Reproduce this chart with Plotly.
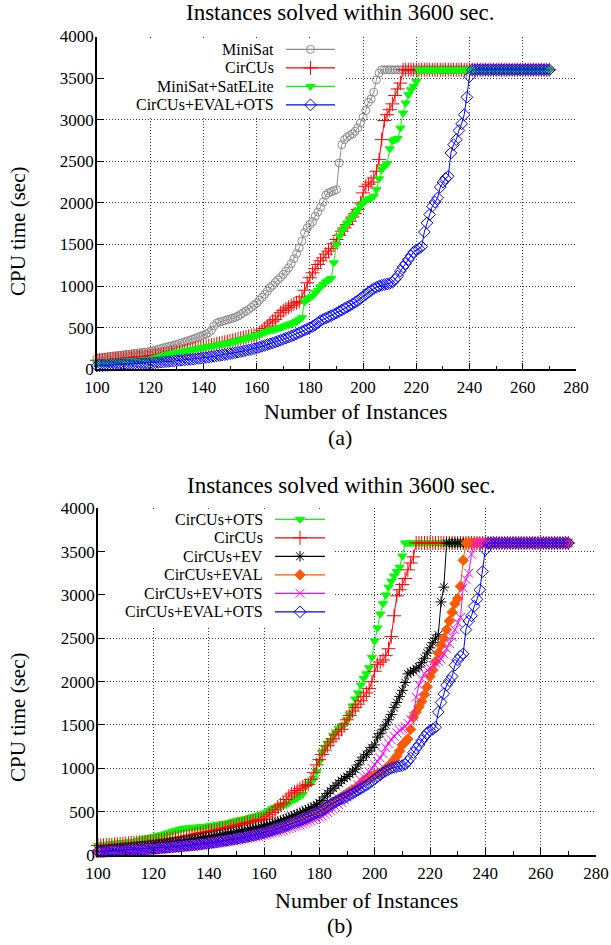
import plotly.graph_objects as go

W, H = 611, 945
FONT = "Liberation Serif, Times New Roman, serif"

TIMEOUT = 3600          # CPU limit (sec); unsolved instances are plotted at this value
FIRST_INSTANCE = 100
LAST_INSTANCE = 270

X_TICKS = list(range(100, 281, 20))
Y_TICKS = list(range(0, 4001, 500))

# Sorted CPU times (sec) of solved instances, from instance #100 onwards
minisat = [
    130, 135, 140, 145, 150, 155, 160, 163, 167, 170,
    174, 178, 182, 186, 190, 194, 198, 202, 206, 210,
    214, 222, 232, 240, 250, 258, 266, 274, 282, 292,
    300, 310, 320, 330, 340, 350, 362, 374, 386, 398,
    410, 425, 440, 470, 520, 555, 568, 575, 585, 595,
    605, 615, 625, 640, 660, 680, 700, 720, 745, 770,
    795, 830, 865, 900, 940, 980, 1010, 1045, 1075, 1105,
    1140, 1180, 1220, 1270, 1330, 1390, 1460, 1540, 1640, 1700,
    1740, 1775, 1840, 1890, 1950, 2010, 2095, 2120, 2135, 2145,
    2160, 2480, 2700, 2760, 2790, 2810, 2830, 2860, 2900, 2960,
    3030, 3110, 3210, 3250, 3330, 3480, 3560,
]

circus = [
    108, 110, 112, 114, 116, 118, 120, 123, 126, 129,
    132, 135, 138, 141, 144, 147, 150, 152, 154, 156,
    158, 163, 168, 173, 178, 183, 188, 193, 198, 203,
    208, 213, 218, 225, 232, 240, 247, 254, 260, 266,
    272, 278, 284, 290, 297, 304, 311, 318, 325, 332,
    340, 348, 356, 364, 372, 380, 388, 396, 404, 410,
    416, 440, 465, 490, 520, 555, 580, 600, 640, 680,
    705, 725, 745, 765, 785, 800, 815, 870, 950, 1040,
    1100, 1160, 1210, 1260, 1305, 1340, 1385, 1420, 1450, 1510,
    1560, 1610, 1660, 1700, 1740, 1780, 1830, 1870, 1920, 2000,
    2120, 2200, 2225, 2250, 2300, 2380, 2520, 2760, 2990, 3060,
    3120, 3190, 3290, 3370, 3440,
]

minisat_satelite = [
    75, 78, 80, 82, 84, 86, 88, 90, 92, 94,
    96, 98, 100, 102, 104, 106, 108, 110, 112, 115,
    118, 125, 135, 145, 155, 163, 172, 180, 188, 196,
    203, 208, 213, 220, 226, 232, 238, 244, 250, 256,
    262, 268, 274, 280, 286, 292, 298, 304, 310, 316,
    322, 330, 338, 346, 354, 362, 372, 382, 392, 400,
    408, 420, 432, 444, 456, 466, 474, 482, 492, 502,
    512, 524, 536, 548, 560, 575, 595, 620, 810, 840,
    860, 880, 920, 950, 990, 1020, 1050, 1070, 1090, 1280,
    1500, 1600, 1660, 1710, 1750, 1790, 1830, 1870, 1910, 1960,
    1995, 2030, 2045, 2055, 2080, 2160, 2290, 2400, 2440, 2470,
    2650, 2745, 2760, 2775, 2900, 3080, 3200, 3300, 3360, 3400,
    3460,
]

circus_eval_ots = [
    40, 42, 44, 46, 47, 49, 50, 52, 53, 55,
    56, 58, 59, 60, 62, 63, 65, 67, 69, 71,
    73, 76, 79, 82, 85, 88, 91, 94, 97, 100,
    103, 106, 109, 112, 115, 118, 121, 125, 129, 133,
    137, 141, 146, 151, 156, 161, 166, 171, 176, 181,
    187, 193, 199, 205, 212, 219, 226, 233, 240, 248,
    256, 266, 276, 286, 296, 306, 316, 326, 338, 350,
    362, 374, 386, 398, 410, 425, 440, 455, 470, 485,
    500, 515, 535, 560, 585, 600, 615, 630, 645, 660,
    675, 695, 712, 730, 748, 766, 785, 805, 825, 850,
    875, 900, 925, 948, 970, 985, 1000, 1010, 1018, 1025,
    1032, 1045, 1080, 1120, 1180, 1230, 1270, 1320, 1365, 1410,
    1435, 1450, 1475, 1650, 1760, 1860, 1960, 2010, 2060, 2190,
    2250, 2295, 2320, 2600, 2700, 2760, 2870, 2950, 3060, 3270,
    3520,
]

circus_ots = [
    110, 114, 118, 122, 126, 130, 134, 137, 140, 143,
    146, 149, 152, 156, 162, 170, 178, 186, 194, 202,
    210, 218, 226, 234, 242, 250, 260, 270, 280, 290,
    300, 306, 310, 313, 316, 319, 322, 325, 328, 331,
    335, 340, 345, 350, 355, 360, 365, 370, 378, 386,
    395, 404, 410, 416, 422, 432, 442, 450, 458, 466,
    478, 495, 515, 535, 545, 555, 565, 575, 580, 600,
    625, 640, 655, 680, 700, 790, 820, 830, 880, 960,
    1080, 1180, 1240, 1290, 1320, 1380, 1420, 1460, 1480, 1500,
    1560, 1620, 1720, 1800, 1870, 1960, 2040, 2090, 2160, 2280,
    2470, 2620, 2780, 2900, 3000, 3090, 3160, 3220, 3270, 3320,
    3450,
]

circus_ev = [
    55, 58, 61, 64, 67, 70, 73, 76, 79, 82,
    85, 88, 91, 94, 97, 100, 104, 108, 112, 116,
    120, 124, 128, 132, 136, 140, 144, 148, 152, 156,
    160, 165, 170, 175, 180, 185, 190, 195, 200, 205,
    210, 215, 220, 226, 232, 238, 244, 250, 256, 262,
    268, 274, 280, 286, 292, 298, 305, 312, 320, 328,
    336, 345, 355, 365, 375, 385, 396, 408, 420, 432,
    445, 458, 472, 486, 500, 515, 530, 545, 560, 580,
    600, 630, 670, 710, 740, 770, 800, 830, 860, 885,
    905, 930, 960, 990, 1040, 1090, 1130, 1160, 1200, 1240,
    1270, 1360, 1400, 1450, 1500, 1560, 1620, 1700, 1760, 1830,
    1900, 1990, 2090, 2110, 2125, 2150, 2170, 2220, 2270, 2330,
    2390, 2450, 2500, 2540, 2920, 3090,
]

circus_eval = [
    30, 32, 34, 36, 38, 40, 42, 44, 46, 48,
    50, 52, 54, 56, 58, 60, 62, 64, 66, 68,
    70, 73, 76, 79, 82, 85, 88, 91, 94, 97,
    100, 104, 108, 112, 116, 120, 124, 128, 132, 136,
    140, 145, 150, 155, 160, 165, 170, 175, 180, 186,
    192, 198, 204, 210, 217, 224, 231, 238, 246, 254,
    262, 272, 282, 292, 302, 312, 323, 334, 346, 358,
    370, 383, 396, 409, 422, 436, 450, 465, 480, 495,
    510, 530, 550, 570, 590, 610, 630, 650, 670, 690,
    710, 730, 750, 770, 790, 830, 860, 880, 895, 910,
    925, 935, 945, 970, 1000, 1020, 1060, 1100, 1140, 1200,
    1270, 1300, 1340, 1450, 1590, 1650, 1710, 1770, 1850, 1940,
    2060, 2130, 2230, 2330, 2420, 2500, 2600, 2700, 2800, 2900,
    2960, 3100, 3400,
]

circus_ev_ots = [
    18, 20, 22, 24, 26, 28, 30, 32, 34, 36,
    38, 40, 42, 44, 46, 48, 50, 52, 54, 56,
    58, 61, 64, 67, 70, 73, 76, 79, 82, 85,
    88, 91, 94, 97, 100, 104, 108, 112, 116, 120,
    124, 128, 132, 136, 140, 145, 150, 155, 160, 165,
    170, 175, 180, 186, 192, 198, 204, 210, 216, 222,
    228, 236, 244, 252, 260, 268, 276, 286, 296, 306,
    316, 326, 336, 346, 358, 370, 382, 394, 406, 420,
    434, 450, 470, 490, 510, 530, 555, 580, 610, 640,
    670, 700, 730, 765, 810, 860, 900, 920, 960, 1000,
    1040, 1080, 1120, 1170, 1240, 1290, 1330, 1370, 1410, 1440,
    1460, 1480, 1520, 1560, 1600, 1820, 1960, 2030, 2090, 2130,
    2160, 2190, 2215, 2235, 2260, 2320, 2380, 2440, 2520, 2600,
    2680, 2740, 3080, 3180, 3250, 3470,
]

# (label, times, colour, symbol, marker size)
PANEL_A = [
    ("MiniSat", minisat, "#8c8c8c", "circle-open", 8),
    ("CirCUs", circus, "#ff0000", "cross-thin-open", 10),
    ("MiniSat+SatELite", minisat_satelite, "#00ff00", "triangle-down", 8),
    ("CirCUs+EVAL+OTS", circus_eval_ots, "#0000ff", "diamond-open", 9),
]
PANEL_B = [
    ("CirCUs+OTS", circus_ots, "#00ff00", "triangle-down", 8),
    ("CirCUs", circus, "#ff0000", "cross-thin-open", 10),
    ("CirCUs+EV", circus_ev, "#000000", "asterisk-open", 9),
    ("CirCUs+EVAL", circus_eval, "#ff5a00", "diamond", 8),
    ("CirCUs+EV+OTS", circus_ev_ots, "#ff00ff", "x-thin-open", 9),
    ("CirCUs+EVAL+OTS", circus_eval_ots, "#0000ff", "diamond-open", 9),
]


def cactus(times):
    """Instance index vs. CPU time, unsolved instances sitting at the limit."""
    xs = list(range(FIRST_INSTANCE, LAST_INSTANCE + 1))
    ys = list(times) + [TIMEOUT] * (len(xs) - len(times))
    return xs, ys


def px(x, y):
    """Pixel position on the page -> paper coordinates."""
    return x / W, 1 - y / H


fig = go.Figure()

# panel geometry in page pixels: left, right, top, bottom
PANELS = [
    dict(xa="x", ya="y", box=(97, 576, 36.5, 369.3), series=PANEL_A),
    dict(xa="x2", ya="y2", box=(98, 596, 508.3, 855), series=PANEL_B),
]

for p in PANELS:
    for name, times, col, sym, size in p["series"]:
        xs, ys = cactus(times)
        fig.add_trace(go.Scatter(
            x=xs, y=ys, mode="lines+markers", name=name,
            xaxis=p["xa"], yaxis=p["ya"], cliponaxis=False,
            line=dict(color=col, width=1),
            marker=dict(symbol=sym, size=size, color=col,
                        line=dict(color=col, width=1)),
            hoverinfo="skip", showlegend=False,
        ))

axis_common = dict(
    showline=True, linecolor="black", linewidth=1.5,
    ticks="inside", ticklen=7, tickwidth=1, tickcolor="black",
    showgrid=True, gridcolor="#3a3a3a", gridwidth=1, griddash="1px,2px",
    zeroline=False, tickfont=dict(family=FONT, size=17, color="black"),
    autorange=False, fixedrange=True, automargin=False,
)

layout_axes = {}
for i, p in enumerate(PANELS):
    l, r, t, b = p["box"]
    suffix = "" if i == 0 else str(i + 1)
    layout_axes["xaxis" + suffix] = dict(
        axis_common, domain=[l / W, r / W], anchor=p["ya"],
        range=[X_TICKS[0], X_TICKS[-1]], tickvals=X_TICKS,
        minor=dict(dtick=10, ticks="inside", ticklen=4, tickcolor="black", showgrid=False),
        ticklabelstandoff=2,
    )
    layout_axes["yaxis" + suffix] = dict(
        axis_common, domain=[1 - b / H, 1 - t / H], anchor=p["xa"],
        range=[Y_TICKS[0], Y_TICKS[-1]], tickvals=Y_TICKS,
        ticklabelstandoff=-2,
    )

# full-page overlay axis in pixel units, used for the key boxes and samples
layout_axes["xaxis3"] = dict(domain=[0, 1], range=[0, W], visible=False,
                             anchor="y3", fixedrange=True, automargin=False)
layout_axes["yaxis3"] = dict(domain=[0, 1], range=[H, 0], visible=False,
                             anchor="x3", fixedrange=True, automargin=False)

# key layouts: box (l, r, t, b), text right edge, sample line x0-x1, first row y, row step
KEY_FONT = 16
KEYS = [
    dict(series=PANEL_A, box=(105, 346, 40, 117), text_r=275, line=(286, 335), row0=49.4, step=18.5),
    dict(series=PANEL_B, box=(105, 335, 509, 628), text_r=264, line=(275, 325), row0=519.3, step=18.5),
]

annotations = []
for k in KEYS:
    l, r, t, b = k["box"]
    fig.add_trace(go.Scatter(
        x=[l, r, r, l, l], y=[t, t, b, b, t], mode="lines", fill="toself",
        fillcolor="white", line=dict(width=0, color="white"),
        xaxis="x3", yaxis="y3", hoverinfo="skip", showlegend=False,
    ))
    x0, x1 = k["line"]
    for j, (name, _, col, sym, size) in enumerate(k["series"]):
        ry = k["row0"] + j * k["step"]
        fig.add_trace(go.Scatter(
            x=[x0, x1], y=[ry, ry], mode="lines", line=dict(color=col, width=1.2),
            xaxis="x3", yaxis="y3", hoverinfo="skip", showlegend=False,
        ))
        fig.add_trace(go.Scatter(
            x=[(x0 + x1) / 2], y=[ry], mode="markers",
            marker=dict(symbol=sym, size=size, color=col, line=dict(color=col, width=1)),
            xaxis="x3", yaxis="y3", hoverinfo="skip", showlegend=False,
        ))
        ax, ay = px(k["text_r"], ry)
        annotations.append(dict(
            x=ax, y=ay, xref="paper", yref="paper", xanchor="right", yanchor="middle",
            text=name, showarrow=False, borderpad=0,
            font=dict(family=FONT, size=KEY_FONT, color="black"),
        ))


def label(text, x, y, size, angle=0):
    ax, ay = px(x, y)
    annotations.append(dict(
        x=ax, y=ay, xref="paper", yref="paper", xanchor="center", yanchor="middle",
        text=text, showarrow=False, textangle=angle,
        font=dict(family=FONT, size=size, color="black"),
    ))


TITLE = "Instances solved within 3600 sec."
label(TITLE, 340, 13, 23)
label("CPU time (sec)", 18, 232, 21, -90)
label("Number of Instances", 355, 412, 22)
label("(a)", 340, 437, 22)

label(TITLE, 341, 485, 23)
label("CPU time (sec)", 18, 718, 21, -90)
label("Number of Instances", 366, 900, 22)
label("(b)", 340, 925, 22)

fig.update_layout(
    width=W, height=H, autosize=False,
    margin=dict(l=0, r=0, t=0, b=0, pad=0, autoexpand=False),
    paper_bgcolor="white", plot_bgcolor="rgba(0,0,0,0)",
    showlegend=False, hovermode=False,
    font=dict(family=FONT, color="black"),
    annotations=annotations,
    **layout_axes,
)

fig.write_html("out.html")
